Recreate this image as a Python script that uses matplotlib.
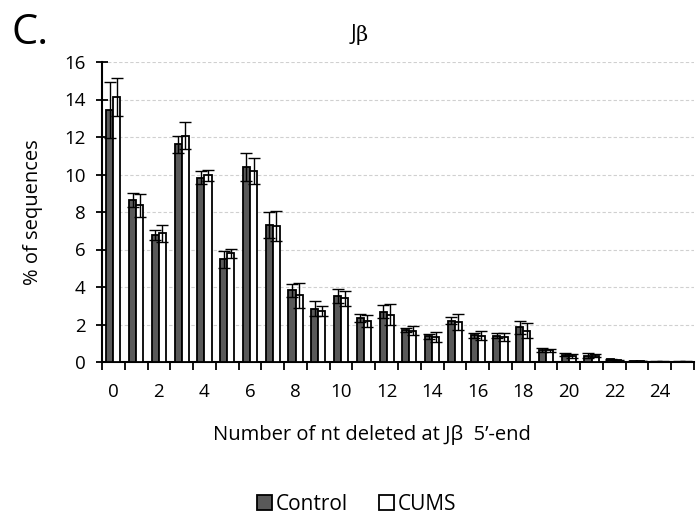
import matplotlib
matplotlib.use("Agg")
import matplotlib.pyplot as plt
import numpy as np

categories = list(range(26))
control = [13.45, 8.64, 6.77, 11.62, 9.84, 5.47, 10.42, 7.32, 3.83, 2.85, 3.51, 2.34, 2.69,
           1.69, 1.37, 2.21, 1.43, 1.41, 1.85, 0.63, 0.40, 0.34, 0.15, 0.05, 0.02, 0.02]
control_err = [1.5, 0.35, 0.25, 0.45, 0.35, 0.45, 0.75, 0.7, 0.35, 0.4, 0.38, 0.23, 0.34,
               0.1, 0.15, 0.18, 0.14, 0.14, 0.34, 0.1, 0.1, 0.13, 0.03, 0.02, 0.01, 0.01]
cums = [14.13, 8.36, 6.86, 12.08, 9.96, 5.79, 10.19, 7.25, 3.55, 2.73, 3.40, 2.19, 2.53,
        1.68, 1.34, 2.14, 1.41, 1.34, 1.68, 0.63, 0.32, 0.34, 0.10, 0.05, 0.02, 0.02]
cums_err = [1.0, 0.6, 0.45, 0.7, 0.3, 0.25, 0.7, 0.8, 0.65, 0.27, 0.4, 0.34, 0.54,
            0.26, 0.26, 0.43, 0.25, 0.2, 0.39, 0.07, 0.1, 0.07, 0.03, 0.02, 0.01, 0.01]
tick_labels = [str(c) for c in categories if c % 2 == 0]

plt.rcParams['font.family'] = ['Open Sans', 'DejaVu Sans']

fig = plt.figure(figsize=(7, 5.2), dpi=100)
ax = fig.add_axes([102/700, 1-362/520, 592/700, 300/520])

x = np.arange(len(categories))
w = 0.31
err_kw = dict(ecolor='black', elinewidth=1.0, capsize=4.2, capthick=1.0)
ax.bar(x - w/2, control, w, yerr=control_err, color='#595959', edgecolor='black',
       linewidth=1.3, error_kw=err_kw, label='Control', zorder=3)
ax.bar(x + w/2, cums, w, yerr=cums_err, color='white', edgecolor='black',
       linewidth=1.3, error_kw=err_kw, label='CUMS', zorder=3)

ax.set_xlim(-0.5, len(categories) - 0.5)
ax.set_ylim(0, 16)
ax.set_yticks(np.arange(0, 17, 2))
ax.yaxis.grid(True, linestyle=(0, (3, 2)), color='#d0d0d0', linewidth=0.8, zorder=0)
ax.set_axisbelow(True)

ax.set_xticks(np.arange(-0.5, len(categories), 1))
ax.set_xticklabels([])
ax.set_xticks([c for c in categories if c % 2 == 0], minor=True)
ax.set_xticklabels(tick_labels, minor=True)
ax.tick_params(axis='x', which='major', direction='out', length=6, width=1.3)
ax.tick_params(axis='x', which='minor', length=0, pad=15, labelsize=13.5)
ax.tick_params(axis='y', direction='inout', length=8, width=1.3, labelsize=13.5, pad=8)

for s in ['top', 'right']:
    ax.spines[s].set_visible(False)
for s in ['left', 'bottom']:
    ax.spines[s].set_linewidth(1.5)

fig.text(33/700, 1-212/520, '% of sequences', rotation=90, ha='center', va='center',
         fontsize=14.5)
fig.text(372/700, 1-440/520, 'Number of nt deleted at Jβ  5\u2019-end', ha='center',
         va='baseline', fontsize=14.5)
fig.text(356/700, 1-35/520, 'J', ha='right', va='center', fontsize=15)
fig.text(356/700, 1-35/520, 'β', ha='left', va='center', fontsize=15,
         family=['DejaVu Serif'])
fig.text(11/700, 1-33/520, 'C.', ha='left', va='center', fontsize=30)

fig.legend(loc='center', bbox_to_anchor=(357/700, 1-504/520), ncol=2, frameon=False,
           fontsize=15, handlelength=0.7, handleheight=0.7, handletextpad=0.2,
           columnspacing=1.5)

fig.savefig('out.png', dpi=100)
